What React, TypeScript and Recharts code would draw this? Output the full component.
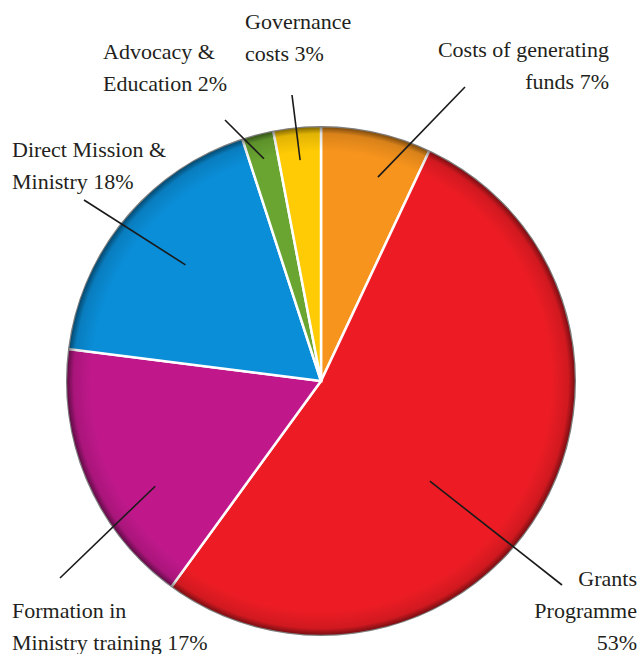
import { PieChart, Pie, Cell } from 'recharts';

// Spending breakdown, clockwise from 12 o'clock
const categories = [
    'Costs of generating funds',
    'Grants Programme',
    'Formation in Ministry training',
    'Direct Mission & Ministry',
    'Advocacy & Education',
    'Governance costs',
];
const percentages = [7, 53, 17, 18, 2, 3];
const colors = ['#F7941D', '#ED1C24', '#C0188B', '#0A8ED8', '#6AA531', '#FFCB05'];

// label text lines, shown as printed
const labelLines = [
    ['Costs of generating', 'funds 7%'],
    ['Grants', 'Programme', '53%'],
    ['Formation in', 'Ministry training 17%'],
    ['Direct Mission &', 'Ministry 18%'],
    ['Advocacy &', 'Education 2%'],
    ['Governance', 'costs 3%'],
];

// where each label block sits and where its leader line starts/ends
const labelLayout = [
    { x: 609, y: 57, anchor: 'end', lineX: 465, lineY: 87, depth: 0.83, shift: -3 },
    { x: 637, y: 586, anchor: 'end', lineX: 562, lineY: 585, depth: 0.58, shift: -12 },
    { x: 12, y: 618, anchor: 'start', lineX: 60, lineY: 578, depth: 0.77, shift: 9 },
    { x: 12, y: 157, anchor: 'start', lineX: 84, lineY: 200, depth: 0.7, shift: -1 },
    { x: 103, y: 59, anchor: 'start', lineX: 225, lineY: 120, depth: 0.9, shift: 0 },
    { x: 245, y: 29, anchor: 'start', lineX: 292, lineY: 95, depth: 0.87, shift: 0 },
];

const data = categories.map((name, i) => ({ name, value: percentages[i] }));
const RAD = Math.PI / 180;
const labelFont = '"Liberation Serif", "Times New Roman", "DejaVu Serif", serif';

function renderLabel(props: any) {
    const { cx, cy, midAngle, outerRadius, index } = props;
    const layout = labelLayout[index];
    const r = outerRadius * layout.depth;
    const a = midAngle + layout.shift;
    const px = cx + r * Math.cos(-a * RAD);
    const py = cy + r * Math.sin(-a * RAD);
    return (
        <g key={`label-${index}`}>
            <line x1={layout.lineX} y1={layout.lineY} x2={px} y2={py} stroke="#1a1a1a" strokeWidth={1.6} />
            <text
                x={layout.x}
                y={layout.y}
                textAnchor={layout.anchor}
                fill="#231F20"
                style={{ fontFamily: labelFont, fontSize: 22 }}
            >
                {labelLines[index].map((line, j) => (
                    <tspan key={j} x={layout.x} dy={j === 0 ? 0 : 32}>{line}</tspan>
                ))}
            </text>
        </g>
    );
}

export default function App() {
    return (
        <div style={{ position: 'absolute', left: 0, top: 0, background: '#fff' }}>
            <PieChart width={641} height={654} margin={{ top: 0, right: 0, bottom: 0, left: 0 }}>
                <defs>
                    <radialGradient id="rim" cx="50%" cy="50%" r="50%">
                        <stop offset="0.9" stopColor="#000" stopOpacity={0} />
                        <stop offset="0.97" stopColor="#000" stopOpacity={0.12} />
                        <stop offset="1" stopColor="#000" stopOpacity={0.55} />
                    </radialGradient>
                </defs>
                <Pie
                    data={data}
                    dataKey="value"
                    nameKey="name"
                    cx={321}
                    cy={381}
                    outerRadius={255}
                    startAngle={90}
                    endAngle={-270}
                    stroke="#ffffff"
                    strokeWidth={2.5}
                    labelLine={false}
                    label={renderLabel}
                    isAnimationActive={false}
                >
                    {data.map((d, i) => (
                        <Cell key={d.name} fill={colors[i]} />
                    ))}
                </Pie>
                <Pie
                    data={[{ name: 'rim', value: 1 }]}
                    dataKey="value"
                    cx={321}
                    cy={381}
                    outerRadius={255}
                    startAngle={90}
                    endAngle={-270}
                    fill="url(#rim)"
                    stroke="none"
                    isAnimationActive={false}
                />
            </PieChart>
        </div>
    );
}
